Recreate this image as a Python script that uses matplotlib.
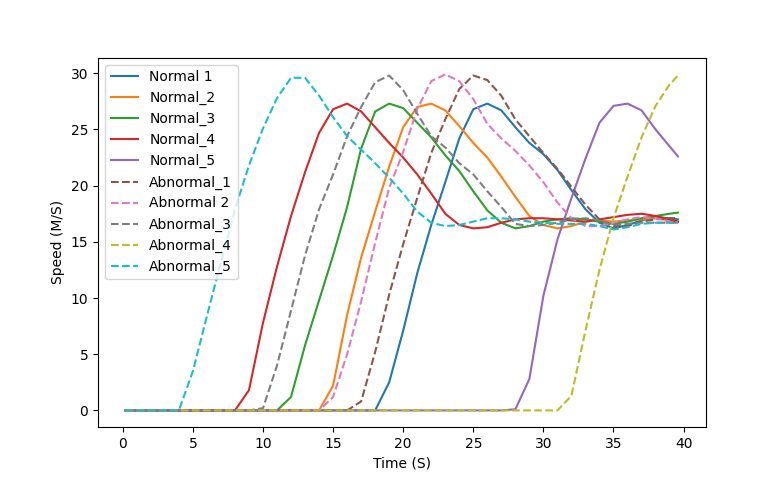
from matplotlib import pyplot as plt

# time samples (s)
time = [0.2] + list(range(1, 40)) + [39.6]

normal_1 = [0.0] * 19 + [2.5, 7.1, 12.2, 16.5, 20.3, 24.2, 26.8, 27.3, 26.7, 25.2,
                         23.8, 22.8, 21.4, 19.6, 17.9, 16.7, 16.2, 16.5, 16.9, 17.2,
                         17.1, 17.0]
normal_2 = [0.0] * 15 + [2.2, 8.5, 13.6, 17.7, 21.7, 25.2, 27.0, 27.3, 26.7, 25.3,
                         23.8, 22.5, 20.8, 19.0, 17.3, 16.5, 16.2, 16.4, 16.8, 16.9,
                         16.8, 16.9, 17.0, 17.1, 16.9, 16.8]
normal_3 = [0.0] * 12 + [1.2, 5.8, 9.8, 13.8, 18.1, 23.3, 26.6, 27.3, 26.9, 25.6,
                         24.3, 22.7, 21.3, 19.5, 17.8, 16.7, 16.2, 16.4, 16.8, 17.0,
                         17.1, 17.0, 16.8, 16.6, 16.8, 17.1, 17.3, 17.5, 17.6]
normal_4 = [0.0] * 9 + [1.8, 7.8, 12.8, 17.3, 21.2, 24.7, 26.8, 27.3, 26.6, 25.2,
                        23.8, 22.5, 21.0, 19.3, 17.5, 16.5, 16.2, 16.3, 16.7, 17.0,
                        17.1, 17.1, 17.0, 16.9, 16.8, 17.0, 17.2, 17.4, 17.5, 17.3,
                        17.0, 16.8]
normal_5 = [0.0] * 28 + [0.1, 2.8, 10.2, 15.2, 18.9, 22.4, 25.6, 27.1, 27.3, 26.7,
                         25.0, 23.5, 22.6]

abnormal_1 = [0.0] * 17 + [0.8, 5.2, 10.3, 14.8, 18.9, 22.9, 25.9, 28.6, 29.8, 29.4,
                           28.0, 25.9, 24.4, 22.9, 21.5, 19.9, 18.3, 17.0, 16.4, 16.4,
                           16.8, 17.0, 17.1, 17.1]
abnormal_2 = [0.0] * 15 + [1.2, 5.0, 9.7, 14.9, 19.8, 23.0, 26.8, 29.3, 29.9, 29.3,
                           27.7, 25.5, 24.2, 23.1, 21.8, 20.3, 18.5, 17.1, 16.4, 16.4,
                           16.7, 17.0, 17.2, 17.1, 16.8, 16.7]
abnormal_3 = [0.0] * 10 + [0.2, 4.0, 8.9, 13.8, 17.9, 21.0, 24.4, 27.0, 29.2, 29.8,
                           28.5, 26.4, 24.4, 23.4, 22.0, 21.0, 19.5, 18.1, 16.6, 16.4,
                           16.5, 16.7, 17.0, 17.1, 16.9, 16.5, 16.6, 16.7, 16.7, 16.7,
                           16.7]
abnormal_4 = [0.0] * 32 + [1.3, 7.1, 12.5, 17.1, 20.8, 24.3, 27.1, 29.0, 29.8]
abnormal_5 = [0.0] * 5 + [3.5, 8.4, 13.2, 17.9, 21.8, 25.1, 27.8, 29.6, 29.6, 28.0,
                          26.1, 24.4, 23.2, 22.0, 20.7, 19.3, 17.7, 16.7, 16.4, 16.5,
                          16.8, 17.1, 17.1, 17.0, 16.8, 16.7, 16.6, 16.6, 16.6, 16.4,
                          16.1, 16.3, 16.6, 16.7, 16.7, 16.7]

normal = [normal_1, normal_2, normal_3, normal_4, normal_5]
abnormal = [abnormal_1, abnormal_2, abnormal_3, abnormal_4, abnormal_5]
normal_labels = ["Normal 1", "Normal_2", "Normal_3", "Normal_4", "Normal_5"]
abnormal_labels = ["Abnormal_1", "Abnormal 2", "Abnormal_3", "Abnormal_4", "Abnormal_5"]

plt.figure(figsize=(7.84, 4.8), dpi=100)

for speeds, label in zip(normal, normal_labels):
    plt.plot(time, speeds, label=label)
for speeds, label in zip(abnormal, abnormal_labels):
    plt.plot(time, speeds, "--", label=label)

plt.xlabel("Time (S)")
plt.ylabel("Speed (M/S)")
plt.legend(loc="upper left")
plt.savefig("out.png", dpi=100)
